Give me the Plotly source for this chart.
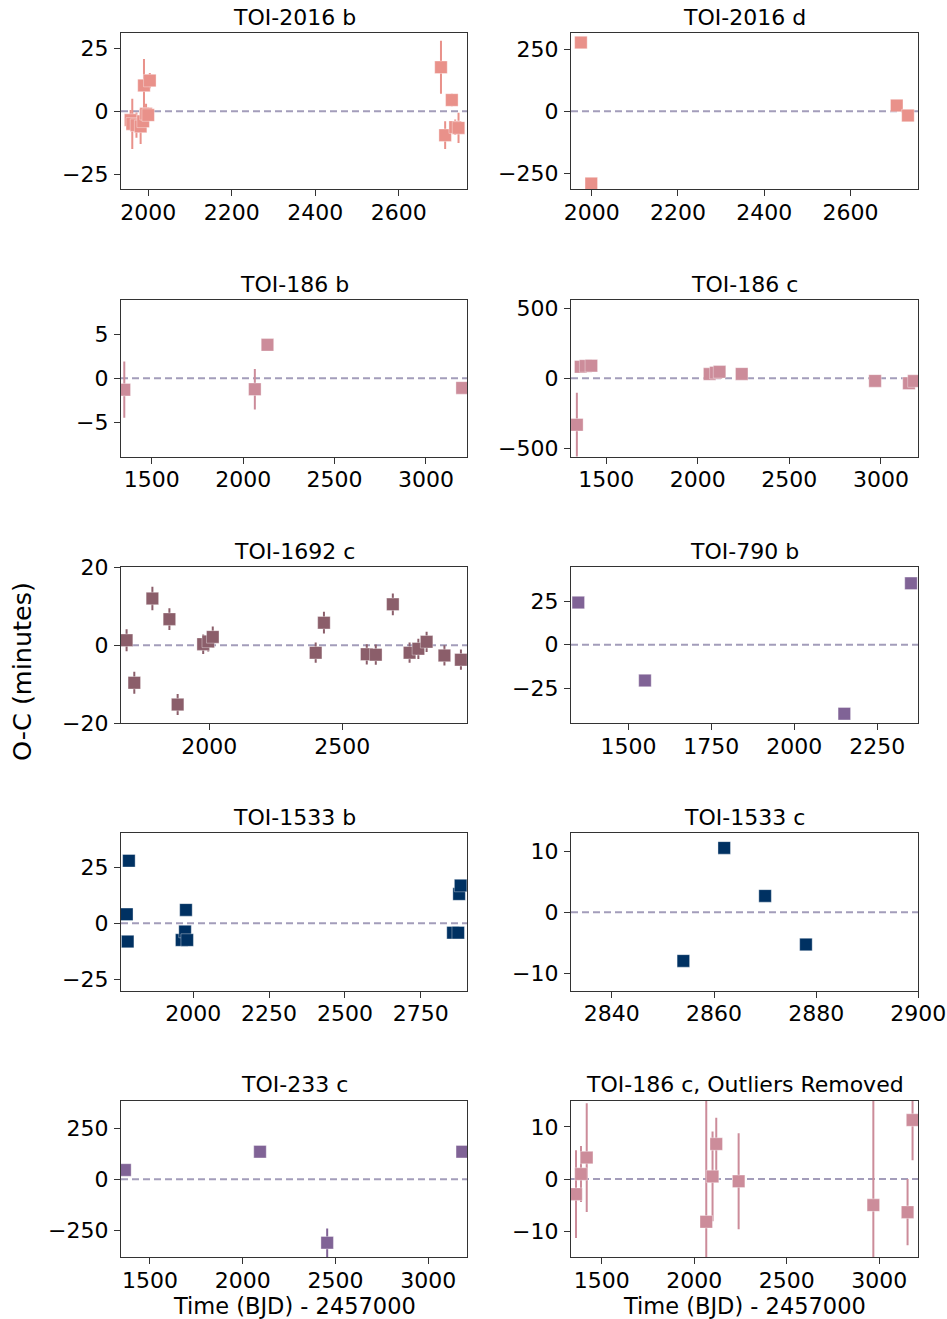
import plotly.graph_objects as go
from plotly.subplots import make_subplots

# ---- Transit timing residuals (O-C, minutes) vs time (BJD - 2457000) ----

toi2016b_t = [1958, 1962, 1972, 1982, 1988, 1990, 1995, 2000, 2004,
              2701, 2711, 2727, 2735, 2743]
toi2016b_oc = [-3.5, -5.0, -5.5, -6.0, -4.0, 10.3, -1.0, -1.5, 12.2,
               17.5, -9.5, 4.5, -6.3, -6.6]
toi2016b_err = [4, 10, 5, 7, 3, 10.5, 4, 3, 3,
                10.5, 5.5, 2.5, 3, 6]

toi2016d_t = [1975, 1999, 2707, 2733]
toi2016d_oc = [276, -290, 23, -17]
toi2016d_err = [5, 5, 5, 5]

toi186b_t = [1350, 2064, 2133, 3198]
toi186b_oc = [-1.3, -1.25, 3.8, -1.1]
toi186b_err = [3.2, 2.3, 0.5, 0.5]

toi186c_t = [1340, 1361, 1388, 1419, 2065, 2099, 2119, 2240, 2968, 3153, 3180]
toi186c_oc = [-333, 82, 88, 90, 30, 40, 46, 31, -19, -36, -20]
toi186c_err = [230, 8, 5, 10, 25, 9, 5, 9, 30, 6, 8]

toi1692c_t = [1689, 1718, 1786, 1850, 1881, 1977, 1996, 2013, 2400,
              2431, 2592, 2626, 2690, 2753, 2786, 2817, 2884, 2946]
toi1692c_oc = [1.3, -9.6, 12.0, 6.7, -15.2, 0.3, 1.0, 2.15, -1.9,
               5.8, -2.3, -2.4, 10.5, -1.9, -0.9, 0.9, -2.6, -3.7]
toi1692c_err = [2.8, 2.8, 3.0, 2.8, 2.7, 2.5, 2.6, 2.7, 2.6,
                2.8, 2.6, 2.6, 2.8, 2.6, 2.6, 2.6, 2.6, 2.6]

toi790b_t = [1349, 1550, 2151, 2352]
toi790b_oc = [24.1, -20.5, -39.5, 35.1]
toi790b_err = [1, 1, 1, 1]

toi1533b_t = [1781, 1784, 1788, 1962, 1973, 1976, 1980, 2856, 2873, 2876, 2881]
toi1533b_oc = [4.0, -8.2, 28.0, -7.5, -3.7, 6.0, -7.5, -4.2, -4.2, 13.1, 16.9]
toi1533b_err = [1, 1, 1, 1, 1, 1, 1, 1, 1, 1, 1]

toi1533c_t = [2854, 2862, 2870, 2878]
toi1533c_oc = [-8.0, 10.6, 2.7, -5.3]
toi1533c_err = [0.3, 0.3, 0.3, 0.3]

toi233c_t = [1365, 2093, 2455, 3183]
toi233c_oc = [46, 136, -312, 136]
toi233c_err = [10, 10, 70, 10]

toi186c_clean_t = [1361, 1388, 1419, 2065, 2099, 2119, 2240, 2968, 3153, 3180]
toi186c_clean_oc = [-2.9, 0.95, 4.1, -8.2, 0.5, 6.7, -0.45, -5.0, -6.35, 11.3]
toi186c_clean_err = [8.4, 5.35, 10.4, 25, 8.6, 5.05, 9.2, 30, 6.35, 7.7]

titles = ["TOI-2016 b", "TOI-2016 d", "TOI-186 b", "TOI-186 c",
          "TOI-1692 c", "TOI-790 b", "TOI-1533 b", "TOI-1533 c",
          "TOI-233 c", "TOI-186 c, Outliers Removed"]

x_ticks = [[2000, 2200, 2400, 2600], [2000, 2200, 2400, 2600],
           [1500, 2000, 2500, 3000], [1500, 2000, 2500, 3000],
           [2000, 2500], [1500, 1750, 2000, 2250],
           [2000, 2250, 2500, 2750], [2840, 2860, 2880, 2900],
           [1500, 2000, 2500, 3000], [1500, 2000, 2500, 3000]]
y_ticks = [[-25, 0, 25], [-250, 0, 250], [-5, 0, 5], [-500, 0, 500],
           [-20, 0, 20], [-25, 0, 25], [-25, 0, 25], [-10, 0, 10],
           [-250, 0, 250], [-10, 0, 10]]

series = [
    (toi2016b_t, toi2016b_oc, toi2016b_err),
    (toi2016d_t, toi2016d_oc, toi2016d_err),
    (toi186b_t, toi186b_oc, toi186b_err),
    (toi186c_t, toi186c_oc, toi186c_err),
    (toi1692c_t, toi1692c_oc, toi1692c_err),
    (toi790b_t, toi790b_oc, toi790b_err),
    (toi1533b_t, toi1533b_oc, toi1533b_err),
    (toi1533c_t, toi1533c_oc, toi1533c_err),
    (toi233c_t, toi233c_oc, toi233c_err),
    (toi186c_clean_t, toi186c_clean_oc, toi186c_clean_err),
]

# ---- styling ----
SALMON = "#E9918A"
PINK = "#CC8C9A"
MAUVE = "#8B5E6A"
PURPLE = "#806396"
NAVY = "#003162"
colors = [SALMON, SALMON, PINK, PINK, MAUVE, PURPLE, NAVY, NAVY, PURPLE, PINK]

x_ranges = [[1935, 2764], [1952, 2757], [1332, 3226], [1308, 3204],
            [1668, 2970], [1327, 2374], [1762, 2903], [2832, 2900],
            [1344, 3210], [1334, 3211]]
y_ranges = [[-31, 31], [-313, 313], [-8.9, 8.9], [-560, 560],
            [-20, 20], [-45, 44.3], [-30.2, 40.3], [-12.9, 13],
            [-384, 387], [-15, 15]]

W, H = 947, 1319
col_px = [(121, 467.3), (571, 918.3)]
row_px = [(33.3, 189.3), (300, 456.5), (567.3, 723.3), (833.3, 990.7), (1100.7, 1257.3)]

FONT = "DejaVu Sans"
TICK_SIZE = 22
TITLE_SIZE = 22

fig = make_subplots(rows=5, cols=2)

for i, (t, oc, err) in enumerate(series):
    r, c = i // 2, i % 2
    fig.add_trace(go.Scatter(
        x=t, y=oc, mode="markers",
        marker=dict(symbol="square", size=12.5, color=colors[i],
                    line=dict(width=0.6, color="rgba(255,255,255,0.6)")),
        error_y=dict(type="data", array=err, visible=True, width=0,
                     thickness=2, color=colors[i]),
        showlegend=False, cliponaxis=True,
    ), row=r + 1, col=c + 1)

    xa = "xaxis" if i == 0 else f"xaxis{i + 1}"
    ya = "yaxis" if i == 0 else f"yaxis{i + 1}"
    x0, x1 = col_px[c]
    y0, y1 = row_px[r]
    axis_common = dict(showline=True, mirror=True, linecolor="#333333",
                       linewidth=1.3, ticks="outside", ticklen=6, tickwidth=1.3,
                       tickcolor="#333333", showgrid=False, zeroline=False,
                       automargin=False,
                       tickfont=dict(family=FONT, size=TICK_SIZE, color="black"))
    fig.layout[xa].update(domain=[x0 / W, x1 / W], range=x_ranges[i],
                          tickmode="array", tickvals=x_ticks[i],
                          ticklabelstandoff=-3, **axis_common)
    fig.layout[ya].update(domain=[1 - y1 / H, 1 - y0 / H], range=y_ranges[i],
                          tickmode="array", tickvals=y_ticks[i],
                          ticklabelstandoff=1, **axis_common)

    xref = "x" if i == 0 else f"x{i + 1}"
    yref = "y" if i == 0 else f"y{i + 1}"
    # zero-residual reference line
    fig.add_shape(type="line", xref=f"{xref} domain", yref=yref,
                  x0=0, x1=1, y0=0, y1=0, layer="below",
                  line=dict(color="#A39DBA", width=2, dash="7px,4px"))
    # panel title
    fig.add_annotation(text=titles[i], xref="paper", yref="paper",
                       x=(x0 + x1) / 2 / W, y=1 - (y0 - 16) / H,
                       xanchor="center", yanchor="middle", showarrow=False,
                       font=dict(family=FONT, size=TITLE_SIZE, color="black"))
    if r == 4:
        fig.add_annotation(text="Time (BJD) - 2457000", xref="paper", yref="paper",
                           x=(x0 + x1) / 2 / W, y=1 - 1306 / H,
                           xanchor="center", yanchor="middle", showarrow=False,
                           font=dict(family=FONT, size=22.5, color="black"))

fig.add_annotation(text="O-C (minutes)", xref="paper", yref="paper",
                   x=22 / W, y=1 - 672 / H, textangle=-90,
                   xanchor="center", yanchor="middle", showarrow=False,
                   font=dict(family=FONT, size=25.5, color="black"))

fig.update_layout(width=W, height=H,
                  margin=dict(l=0, r=0, t=0, b=0, autoexpand=False),
                  plot_bgcolor="white", paper_bgcolor="white",
                  font=dict(family=FONT, color="black"))

fig.write_html("out.html")
